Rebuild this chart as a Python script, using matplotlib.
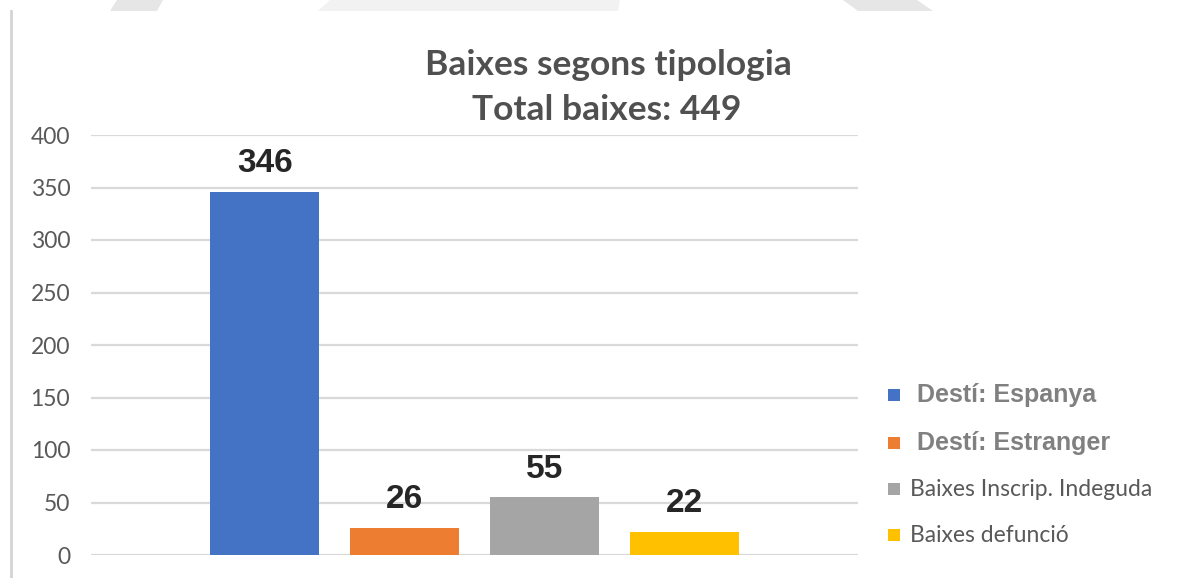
import matplotlib
matplotlib.use("Agg")
import matplotlib.pyplot as plt
from matplotlib.patches import Rectangle, Polygon
from matplotlib.lines import Line2D

categories = ["Destí: Espanya", "Destí: Estranger", "Baixes Inscrip. Indeguda", "Baixes defunció"]
values = [346, 26, 55, 22]
colors = ["#4472C4", "#ED7D31", "#A5A5A5", "#FFC000"]
yticks = [0, 50, 100, 150, 200, 250, 300, 350, 400]
title_lines = ["Baixes segons tipologia", "Total baixes: 449"]

W, H = 1181, 578
fig = plt.figure(figsize=(W / 100, H / 100), dpi=100)
fig.patch.set_facecolor("white")

def fx(px):
    return px / W

def fy(py):
    return 1 - py / H

# faint watermark shapes at the top
for pts, col in [
    ([(117, 0), (163, 0), (157, 11), (110, 11)], "#e6e6e6"),
    ([(330, 0), (620, 0), (618, 11), (318, 11)], "#f2f2f2"),
    ([(843, 0), (917, 0), (933, 11), (858, 11)], "#e6e6e6"),
]:
    fig.patches.append(Polygon([(fx(x), fy(y)) for x, y in pts], closed=True,
                               transform=fig.transFigure, facecolor=col,
                               edgecolor="none", zorder=0))

# left border line
fig.add_artist(Line2D([fx(11), fx(11)], [fy(11), fy(578)], transform=fig.transFigure,
                      color="#d4d4d4", lw=2))

ax = fig.add_axes([fx(91), fy(555), fx(858) - fx(91), fy(135) - fy(555)])
x = list(range(len(values)))
bars = ax.bar(x, values, width=0.78, color=colors, zorder=3)
ax.set_xlim(-1.245, 4.245)
ax.set_ylim(0, 400)
ax.set_yticks(yticks)
ax.set_yticklabels([str(t) for t in yticks], fontsize=16.5, color="#595959", family="Lato")
ax.tick_params(axis="y", length=0, pad=15)
ax.set_xticks([])
for s in ax.spines.values():
    s.set_visible(False)
ax.yaxis.grid(True, color="#d9d9d9", lw=1.6, zorder=0)
ax.set_axisbelow(True)

for xi, v in zip(x, values):
    ax.annotate(str(v), (xi, v), xytext=(0, 9), textcoords="offset points",
                ha="center", va="bottom", fontsize=24, fontweight="bold",
                color="#262626", family="Liberation Sans")

# title
fig.text(fx(608), fy(65), title_lines[0], ha="center", va="center", fontsize=25.5,
         fontweight="bold", color="#505050", family="Lato")
fig.text(fx(607), fy(110), title_lines[1], ha="center", va="center", fontsize=25.5,
         fontweight="bold", color="#505050", family="Lato")

# legend
leg_y = [395, 443, 489, 535]
for i, (lab, col, yy) in enumerate(zip(categories, colors, leg_y)):
    fig.patches.append(Rectangle((fx(888), fy(yy + 6)), fx(12), 12 / H,
                                 transform=fig.transFigure, facecolor=col, edgecolor="none"))
    if i < 2:
        fig.text(fx(917), fy(yy), lab, ha="left", va="center", fontsize=18,
                 fontweight="bold", color="#808080", family="Liberation Sans")
    else:
        fig.text(fx(910), fy(yy), lab, ha="left", va="center", fontsize=16.5,
                 color="#595959", family="Lato")

fig.savefig("out.png", dpi=100, facecolor="white")
